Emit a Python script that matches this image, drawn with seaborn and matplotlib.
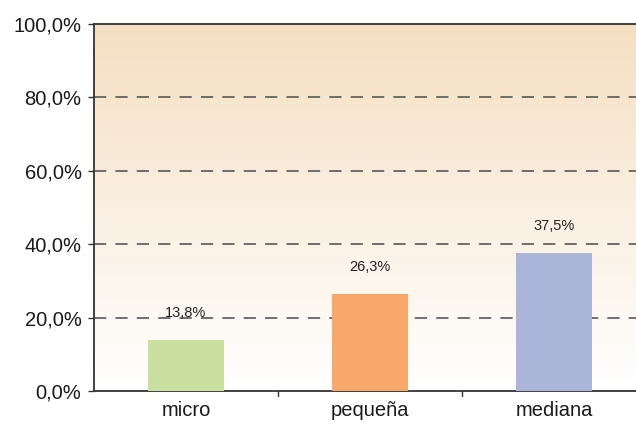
import numpy as np
import pandas as pd
import matplotlib
matplotlib.use("Agg")
import matplotlib.pyplot as plt
import seaborn as sns
from matplotlib.colors import LinearSegmentedColormap

categories = ["micro", "pequeña", "mediana"]
values = [13.8, 26.3, 37.5]
labels = ["13,8%", "26,3%", "37,5%"]
colors = ["#c9e0a0", "#f9a86b", "#abb4d9"]
yticks = [0, 20, 40, 60, 80, 100]
ytick_labels = ["0,0%", "20,0%", "40,0%", "60,0%", "80,0%", "100,0%"]

sns.set_theme(style="white")
plt.rcParams['font.family'] = ['Liberation Sans', 'DejaVu Sans']

fig = plt.figure(figsize=(6.36, 4.25), dpi=100)
ax = fig.add_axes([94/636, 34/425, 552/636, 367/425])

df = pd.DataFrame({"cat": categories, "val": values})
sns.barplot(data=df, x="cat", y="val", hue="cat", palette=colors, width=0.41,
            legend=False, ax=ax, saturation=1, zorder=3, linewidth=0)

# gradient background
grad = np.linspace(0, 1, 256).reshape(-1, 1)
cmap = LinearSegmentedColormap.from_list("bg", ["#ffffff", "#f5dfc2"])
ax.imshow(grad, aspect="auto", cmap=cmap, origin="lower",
          extent=[0, 1, 0, 1], transform=ax.transAxes, zorder=0)

ax.set_xlim(-0.5, 2.5)
ax.set_ylim(0, 100)
ax.set_yticks(yticks)
ax.set_yticklabels(ytick_labels, fontsize=14.5, color="#1a1a1a")
ax.set_xticks([0, 1, 2])
ax.set_xticklabels(categories, fontsize=14.5, color="#1a1a1a")
ax.tick_params(axis="x", length=0, pad=7)
ax.tick_params(axis="y", length=4, width=1, color="#333333", direction="out", left=True, pad=5)
for b in [0.5, 1.5]:
    ax.plot([b, b], [0, -1.3], color="#333333", lw=1, clip_on=False, zorder=5)
ax.set_xlabel("")
ax.set_ylabel("")

for y in [20, 40, 60, 80]:
    ax.axhline(y, color="#4a4a4a", lw=1.1, ls=(0, (8, 6)), zorder=2)

for i, (v, lab) in enumerate(zip(values, labels)):
    ax.annotate(lab, (i, v), xytext=(0, 20), textcoords="offset points",
                ha="center", va="center", fontsize=10.5, color="#222222", zorder=6)

ax.spines["right"].set_visible(False)
for side in ["left", "top", "bottom"]:
    ax.spines[side].set_visible(True)
    ax.spines[side].set_color("#333333")
    ax.spines[side].set_linewidth(1.3)

fig.savefig("out.png", dpi=100)
